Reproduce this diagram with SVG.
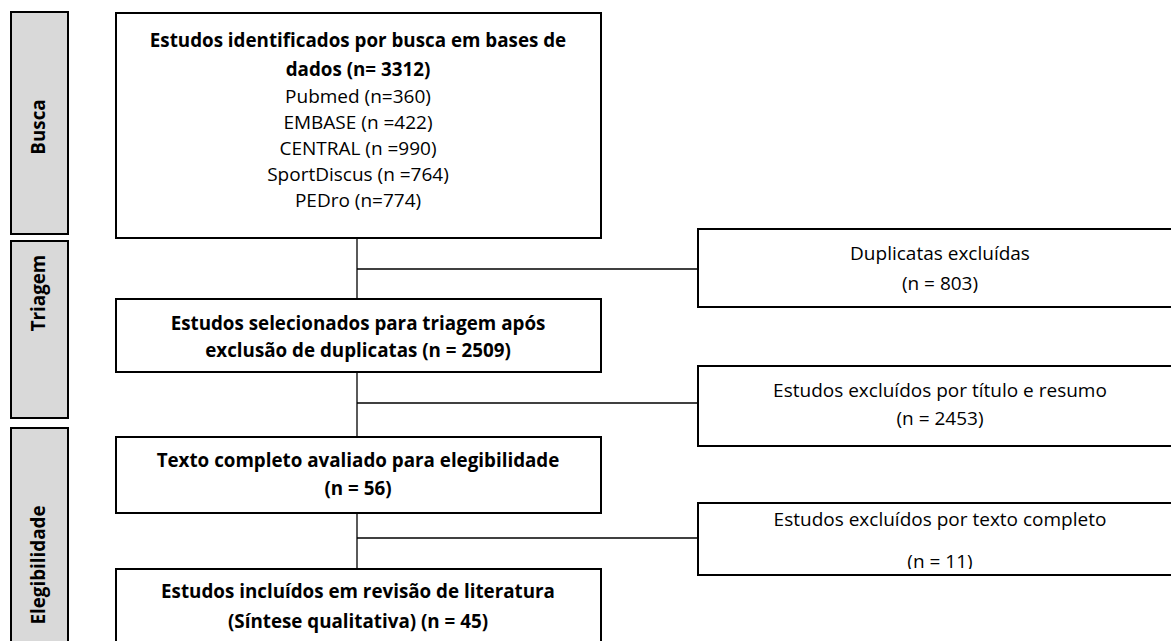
<svg xmlns="http://www.w3.org/2000/svg" width="1171" height="641" viewBox="0 0 1171 641">
<style>
.box{fill:#fff;stroke:#000;stroke-width:2}
.side{fill:#d9d9d9;stroke:#000;stroke-width:2}
.ln{stroke:#000;stroke-width:1.3;fill:none}
text{font-family:"Open Sans","Liberation Sans",sans-serif;font-size:19px;fill:#000;text-anchor:middle}
.b{font-weight:bold;font-size:18.8px}
</style>
<defs><clipPath id="c3"><rect x="698" y="503" width="480" height="66"/></clipPath></defs>
<rect width="1171" height="641" fill="#fff"/>
<g id="phase-busca"><rect class="side" x="11" y="12" width="57" height="222"/><text class="b" transform="translate(45,127) rotate(-90)">Busca</text></g>
<g id="phase-triagem"><rect class="side" x="11" y="241" width="57" height="177"/><text class="b" transform="translate(45,293) rotate(-90)">Triagem</text></g>
<g id="phase-elegibilidade"><rect class="side" x="11" y="428" width="57" height="280"/><text class="b" transform="translate(45,565) rotate(-90)">Elegibilidade</text></g>
<g id="connectors">
<line class="ln" x1="357" y1="238" x2="357" y2="299"/>
<line class="ln" x1="357" y1="269" x2="698" y2="269"/>
<line class="ln" x1="357" y1="372" x2="357" y2="437"/>
<line class="ln" x1="357" y1="403" x2="698" y2="403"/>
<line class="ln" x1="357" y1="513" x2="357" y2="569"/>
<line class="ln" x1="357" y1="538" x2="698" y2="538"/>
</g>
<g id="n1"><rect class="box" x="116" y="13" width="485" height="225"/>
<text class="b" x="358" y="47">Estudos identificados por busca em bases de</text>
<text class="b" x="358" y="76">dados (n= 3312)</text>
<text x="358" y="103">Pubmed (n=360)</text>
<text x="358" y="129">EMBASE (n =422)</text>
<text x="358" y="155">CENTRAL (n =990)</text>
<text x="358" y="181">SportDiscus (n =764)</text>
<text x="358" y="207">PEDro (n=774)</text></g>
<g id="n2"><rect class="box" x="116" y="299" width="485" height="73"/>
<text class="b" x="358" y="330">Estudos selecionados para triagem após</text>
<text class="b" x="358" y="357">exclusão de duplicatas (n = 2509)</text></g>
<g id="n3"><rect class="box" x="116" y="437" width="485" height="76"/>
<text class="b" x="358" y="467">Texto completo avaliado para elegibilidade</text>
<text class="b" x="358" y="495">(n = 56)</text></g>
<g id="n4"><rect class="box" x="116" y="569" width="485" height="90"/>
<text class="b" x="358" y="598">Estudos incluídos em revisão de literatura</text>
<text class="b" x="358" y="628">(Síntese qualitativa) (n = 45)</text></g>
<g id="r1"><rect class="box" x="698" y="229" width="484" height="78"/>
<text x="940" y="260">Duplicatas excluídas</text>
<text x="940" y="290">(n = 803)</text></g>
<g id="r2"><rect class="box" x="698" y="366" width="484" height="80"/>
<text x="940" y="397">Estudos excluídos por título e resumo</text>
<text x="940" y="425">(n = 2453)</text></g>
<g id="r3"><rect class="box" x="698" y="503" width="484" height="72"/>
<text x="940" y="526">Estudos excluídos por texto completo</text>
<text x="940" y="568" clip-path="url(#c3)">(n = 11)</text></g>
</svg>
